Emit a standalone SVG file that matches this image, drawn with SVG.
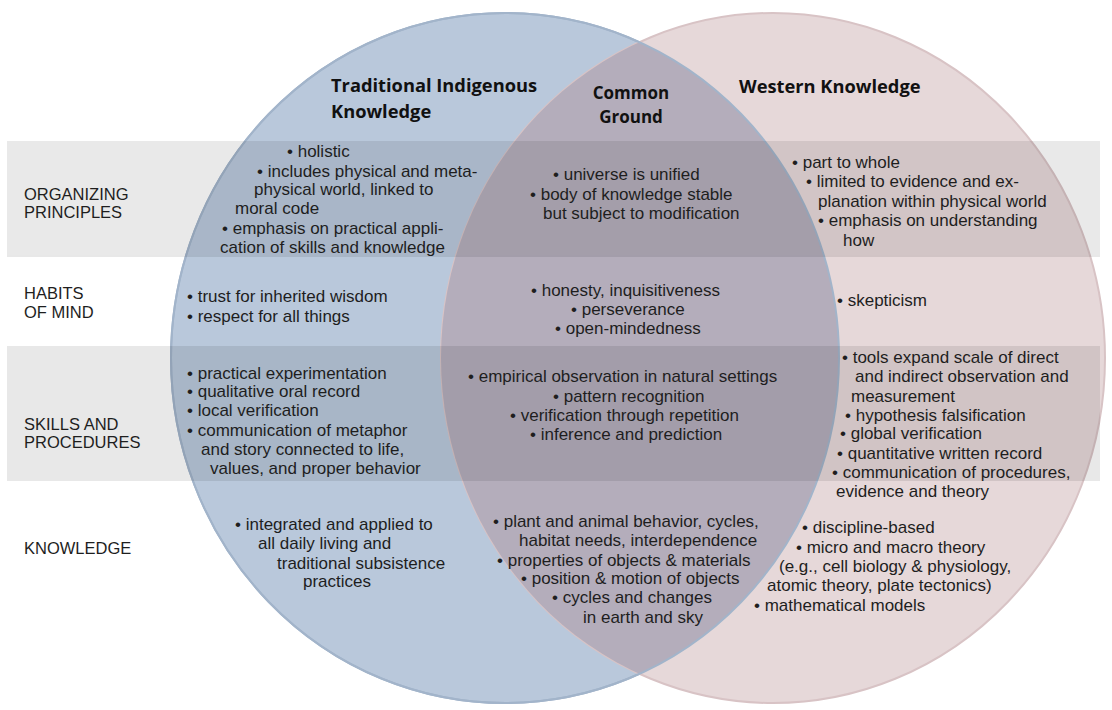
<svg xmlns="http://www.w3.org/2000/svg" width="1112" height="710" viewBox="0 0 1112 710">
<style>
text{font-family:"Liberation Sans",Arial,sans-serif;font-size:17px;fill:#1e1e1e}
.h{font-family:"Open Sans","Liberation Sans",sans-serif;font-weight:bold;font-size:18.3px;fill:#111}
.c{font-size:17px}
.r{font-size:16.5px}
</style>
<defs>
<clipPath id="cl"><ellipse cx="505" cy="358" rx="334" ry="345"/></clipPath>
</defs>
<rect width="1112" height="710" fill="#fff"/>
<g id="circles">
<ellipse id="left" cx="505" cy="358" rx="334" ry="345" fill="#b9c8db" stroke="#a2b4ca" stroke-width="2"/>
<ellipse id="right" cx="773" cy="358" rx="332" ry="345" fill="#e6d8d9" stroke="#d8c3c5" stroke-width="2"/>
<ellipse cx="773" cy="358" rx="332" ry="345" fill="#b4adbb" clip-path="url(#cl)"/>
<ellipse cx="505" cy="358" rx="334" ry="345" fill="none" stroke="#a2b4ca" stroke-width="2"/>
</g>
<g id="bands" fill="#000" opacity="0.085">
<rect x="7" y="141" width="1093" height="116"/>
<rect x="7" y="346" width="1093" height="135"/>
</g>
<g id="headers">
<text class="h" x="331" y="92">Traditional Indigenous</text>
<text class="h" x="331" y="118">Knowledge</text>
<text class="h c" x="631" y="99" text-anchor="middle">Common</text>
<text class="h c" x="631" y="123" text-anchor="middle">Ground</text>
<text class="h" x="739" y="93">Western Knowledge</text>
</g>
<g id="rowlabels">
<text class="r" x="24" y="200">ORGANIZING</text><text class="r" x="24" y="218">PRINCIPLES</text>
<text class="r" x="24" y="299">HABITS</text><text class="r" x="24" y="318">OF MIND</text>
<text class="r" x="24" y="430">SKILLS AND</text><text class="r" x="24" y="448">PROCEDURES</text>
<text class="r" x="24" y="554">KNOWLEDGE</text>
</g>
<g id="organizing">
<text x="287" y="157">• holistic</text>
<text x="257" y="177">• includes physical and meta-</text>
<text x="254" y="195">physical world, linked to</text>
<text x="235" y="214">moral code</text>
<text x="222" y="234">• emphasis on practical appli-</text>
<text x="220" y="253">cation of skills and knowledge</text>
<text x="553" y="180">• universe is unified</text>
<text x="530" y="200">• body of knowledge stable</text>
<text x="543" y="219">but subject to modification</text>
<text x="792" y="168">• part to whole</text>
<text x="806" y="187">• limited to evidence and ex-</text>
<text x="818" y="207">planation within physical world</text>
<text x="818" y="226">• emphasis on understanding</text>
<text x="843" y="246">how</text>
</g>
<g id="habits">
<text x="187" y="302">• trust for inherited wisdom</text>
<text x="187" y="322">• respect for all things</text>
<text x="531" y="296">• honesty, inquisitiveness</text>
<text x="571" y="315">• perseverance</text>
<text x="555" y="334">• open-mindedness</text>
<text x="837" y="306">• skepticism</text>
</g>
<g id="skills">
<text x="187" y="379">• practical experimentation</text>
<text x="187" y="397">• qualitative oral record</text>
<text x="187" y="416">• local verification</text>
<text x="187" y="436">• communication of metaphor</text>
<text x="201" y="455">and story connected to life,</text>
<text x="210" y="474">values, and proper behavior</text>
<text x="468" y="382">• empirical observation in natural settings</text>
<text x="553" y="402">• pattern recognition</text>
<text x="510" y="421">• verification through repetition</text>
<text x="530" y="440">• inference and prediction</text>
<text x="842" y="363">• tools expand scale of direct</text>
<text x="855" y="382">and indirect observation and</text>
<text x="851" y="402">measurement</text>
<text x="845" y="421">• hypothesis falsification</text>
<text x="840" y="439">• global verification</text>
<text x="837" y="459">• quantitative written record</text>
<text x="832" y="478">• communication of procedures,</text>
<text x="836" y="497">evidence and theory</text>
</g>
<g id="knowledge">
<text x="235" y="530">• integrated and applied to</text>
<text x="258" y="549">all daily living and</text>
<text x="277" y="569">traditional subsistence</text>
<text x="303" y="587">practices</text>
<text x="493" y="527">• plant and animal behavior, cycles,</text>
<text x="519" y="546">habitat needs, interdependence</text>
<text x="497" y="566">• properties of objects &amp; materials</text>
<text x="521" y="584">• position &amp; motion of objects</text>
<text x="552" y="603">• cycles and changes</text>
<text x="583" y="623">in earth and sky</text>
<text x="802" y="533">• discipline-based</text>
<text x="796" y="553">• micro and macro theory</text>
<text x="779" y="572">(e.g., cell biology &amp; physiology,</text>
<text x="767" y="591">atomic theory, plate tectonics)</text>
<text x="754" y="611">• mathematical models</text>
</g>
<g id="connectors"/>
</svg>
